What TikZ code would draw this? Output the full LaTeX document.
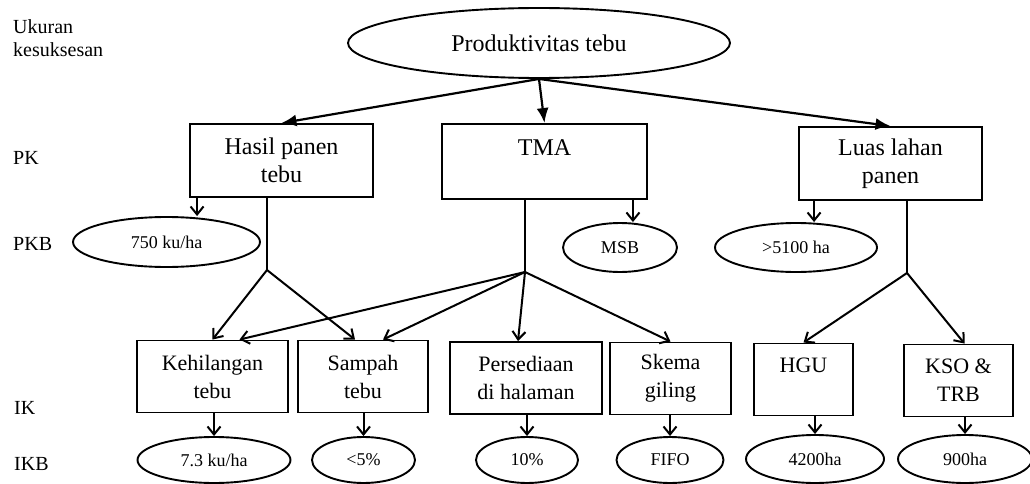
\documentclass[tikz,border=0pt]{standalone}
\usepackage{fontspec}
\setmainfont{Liberation Serif}
\usetikzlibrary{arrows.meta,shapes.geometric}

\begin{document}
\begin{tikzpicture}[x=1pt, y=-1pt,
    pkbox/.style={draw, line width=1.9pt, align=center, inner sep=0pt, font=\fontsize{24}{28}\selectfont},
    ikbox/.style={draw, line width=1.9pt, align=center, inner sep=0pt, minimum height=72pt, font=\fontsize{22}{28}\selectfont},
    target/.style={draw, ellipse, line width=1.9pt, inner sep=0pt, font=\fontsize{18}{20}\selectfont},
    lvl/.style={anchor=west, inner sep=0pt, align=left, font=\fontsize{20}{23}\selectfont},
    bigarr/.style={-{Latex[length=15pt,width=12pt]}, line width=2.2pt},
    arr/.style={-{Straight Barb[length=8pt,width=13pt]}, line width=2pt}
  ]
  \useasboundingbox (0,0) rectangle (1030,484);

  % Levels
  \node[lvl] (ukuran) at (13,38) {Ukuran\\kesuksesan};
  \node[lvl] (pk) at (13,158) {PK};
  \node[lvl] (pkb) at (13,244) {PKB};
  \node[lvl] (ik) at (14,408) {IK};
  \node[lvl] (ikb) at (14,464) {IKB};

  % Top
  \node[target, minimum width=382pt, minimum height=70pt, font=\fontsize{24}{28}\selectfont] (prod) at (539,43) {Produktivitas tebu};

  % PK
  \node[pkbox, minimum width=183pt, minimum height=73pt] (hasil) at (281.5,160.5) {Hasil panen\\tebu};
  \node[pkbox, minimum width=205pt, minimum height=75pt] (tma) at (544.5,161.5) {TMA\\~};
  \node[pkbox, minimum width=183pt, minimum height=73pt] (luas) at (890.5,163.5) {Luas lahan\\panen};

  % PKB
  \node[target, minimum width=187pt, minimum height=50pt] (t750) at (166.5,242) {750 ku/ha};
  \node[target, minimum width=114pt, minimum height=49pt] (msb) at (620,247.5) {MSB};
  \node[target, minimum width=162pt, minimum height=49pt] (t5100) at (796,247.5) {>5100 ha};

  % branch points
  \coordinate (bh) at (267,270);
  \coordinate (bt) at (525,272);
  \coordinate (bl) at (907,273);

  % IK
  \node[ikbox, minimum width=151pt] (keh) at (212.5,376.5) {Kehilangan\\tebu};
  \node[ikbox, minimum width=130pt] (sam) at (363,376.5) {Sampah\\tebu};
  \node[ikbox, minimum width=152pt] (pers) at (526,378) {Persediaan\\di halaman};
  \node[ikbox, minimum width=121pt] (skema) at (670.5,378.5) {Skema\\giling};
  \node[ikbox, minimum width=99pt] (hgu) at (803.5,379.5) {HGU\\~};
  \node[ikbox, minimum width=109pt] (kso) at (958.5,380.5) {KSO \&\\TRB};

  % IKB
  \node[target, minimum width=153pt, minimum height=46pt] (t73) at (214,460) {7.3 ku/ha};
  \node[target, minimum width=103pt, minimum height=46pt] (t5) at (363.5,460) {<5\%};
  \node[target, minimum width=102pt, minimum height=46pt] (t10) at (527,460) {10\%};
  \node[target, minimum width=107pt, minimum height=46pt] (fifo) at (670,460) {FIFO};
  \node[target, minimum width=138pt, minimum height=48pt] (t4200) at (815,459) {4200ha};
  \node[target, minimum width=134pt, minimum height=48pt] (t900) at (965,459) {900ha};

  % Top level arrows
  \draw[bigarr] (prod.south) -- (hasil.north);
  \draw[bigarr] (prod.south) -- (tma.north);
  \draw[bigarr] (prod.south) -- (luas.north);

  % PK to PKB
  \draw[arr] (hasil.south west) ++(8,0) coordinate (h0) -- (h0 |- t750.north);
  \draw[arr] (tma.south east) ++(-15,0) coordinate (m0) -- (m0 |- msb.north);
  \draw[arr] (luas.south west) ++(16,0) coordinate (l0) -- (l0 |- t5100.north);

  % PK to IK
  \draw[line width=1.4pt] (bh |- hasil.south) -- (bh);
  \draw[line width=1.4pt] (bt |- tma.south) -- (bt);
  \draw[line width=1.4pt] (bl |- luas.south) -- (bl);
  \draw[arr] (bh) -- (keh.north);
  \draw[arr] (bh) -- ([xshift=-8pt]sam.north);
  \draw[arr] (bt) -- ([xshift=27pt]keh.north);
  \draw[arr] (bt) -- ([xshift=20pt]sam.north);
  \draw[arr] (bt) -- ([xshift=-8pt]pers.north);
  \draw[arr] (bt) -- (skema.north);
  \draw[arr] (bl) -- (hgu.north);
  \draw[arr] (bl) -- ([xshift=6pt]kso.north);

  % IK to IKB
  \foreach \a/\b in {keh/t73, sam/t5, pers/t10, skema/fifo, hgu/t4200, kso/t900}
    \draw[arr] (\a.south -| \b.north) -- (\b.north);
\end{tikzpicture}
\end{document}
